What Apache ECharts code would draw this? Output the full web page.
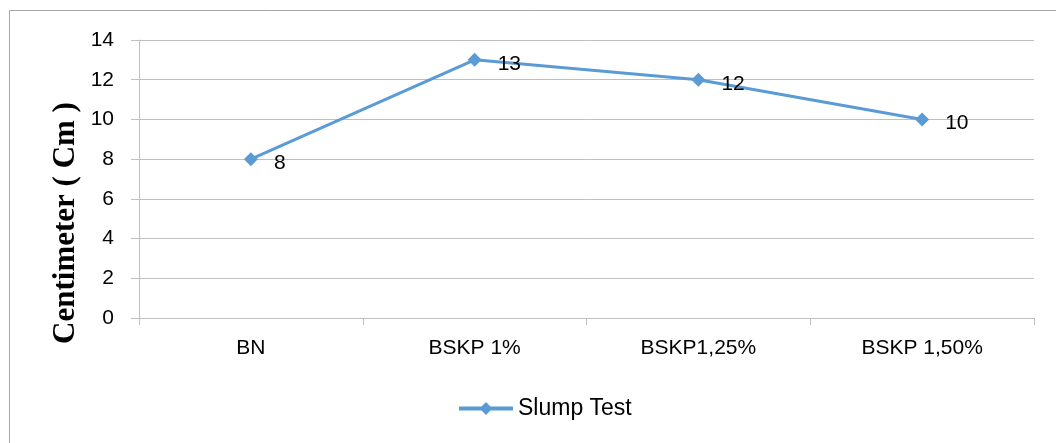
<!DOCTYPE html>
<html>
<head>
<meta charset="utf-8">
<script src="https://cdn.jsdelivr.net/npm/echarts@6/dist/echarts.min.js"></script>
<style>
  html, body { margin: 0; padding: 0; background: #fff; }
  #chart { width: 1056px; height: 443px; }
</style>
</head>
<body>
<div id="chart"></div>
<script>
const categories = ["BN", "BSKP 1%", "BSKP1,25%", "BSKP 1,50%"];
const slumpValues = [8, 13, 12, 10];
const seriesName = "Slump Test";
const yAxisTitle = "Centimeter ( Cm )";

const chart = echarts.init(document.getElementById("chart"), null, { renderer: "canvas" });

chart.setOption({
  backgroundColor: "#fff",
  animation: false,
  textStyle: { fontFamily: "Liberation Sans", color: "#000" },
  graphic: [
    {
      type: "rect",
      shape: { x: 9.5, y: 10.5, width: 1100, height: 500 },
      style: { fill: "none", stroke: "#a6a6a6", lineWidth: 1 },
      silent: true
    },
    {
      type: "text",
      x: 66,
      y: 223,
      rotation: Math.PI / 2,
      style: {
        text: yAxisTitle,
        fontFamily: "Liberation Serif",
        fontWeight: "bold",
        fontSize: 31,
        fill: "#000",
        align: "center",
        verticalAlign: "middle"
      }
    }
  ],
  grid: { left: 139, right: 22, top: 40, bottom: 125 },
  legend: {
    bottom: 18,
    left: 452,
    itemWidth: 54,
    itemHeight: 16,
    itemGap: 10,
    textStyle: { fontSize: 23, color: "#000" },
    itemStyle: { color: "#5b9bd5" },
    lineStyle: { color: "#5b9bd5", width: 4 },
    data: [seriesName]
  },
  xAxis: {
    type: "category",
    data: categories,
    boundaryGap: true,
    axisLine: { lineStyle: { color: "#bfbfbf", width: 1 } },
    axisTick: { show: true, length: 7, inside: false, lineStyle: { color: "#bfbfbf" } },
    axisLabel: { fontSize: 21, color: "#000", margin: 20 }
  },
  yAxis: {
    type: "value",
    min: 0,
    max: 14,
    interval: 2,
    axisLine: { show: true, lineStyle: { color: "#bfbfbf", width: 1 } },
    axisTick: { show: true, length: 8, lineStyle: { color: "#bfbfbf" } },
    axisLabel: { fontSize: 21, color: "#000", margin: 25 },
    splitLine: { lineStyle: { color: "#bfbfbf", width: 1 } }
  },
  series: [
    {
      name: seriesName,
      type: "line",
      data: slumpValues,
      symbol: "diamond",
      symbolSize: 14,
      itemStyle: { color: "#5b9bd5" },
      lineStyle: { color: "#5b9bd5", width: 3 },
      label: {
        show: true,
        position: "right",
        distance: 16,
        offset: [0, 4],
        fontSize: 21,
        color: "#000"
      }
    }
  ]
});

window.addEventListener("resize", () => chart.resize());
</script>
</body>
</html>
